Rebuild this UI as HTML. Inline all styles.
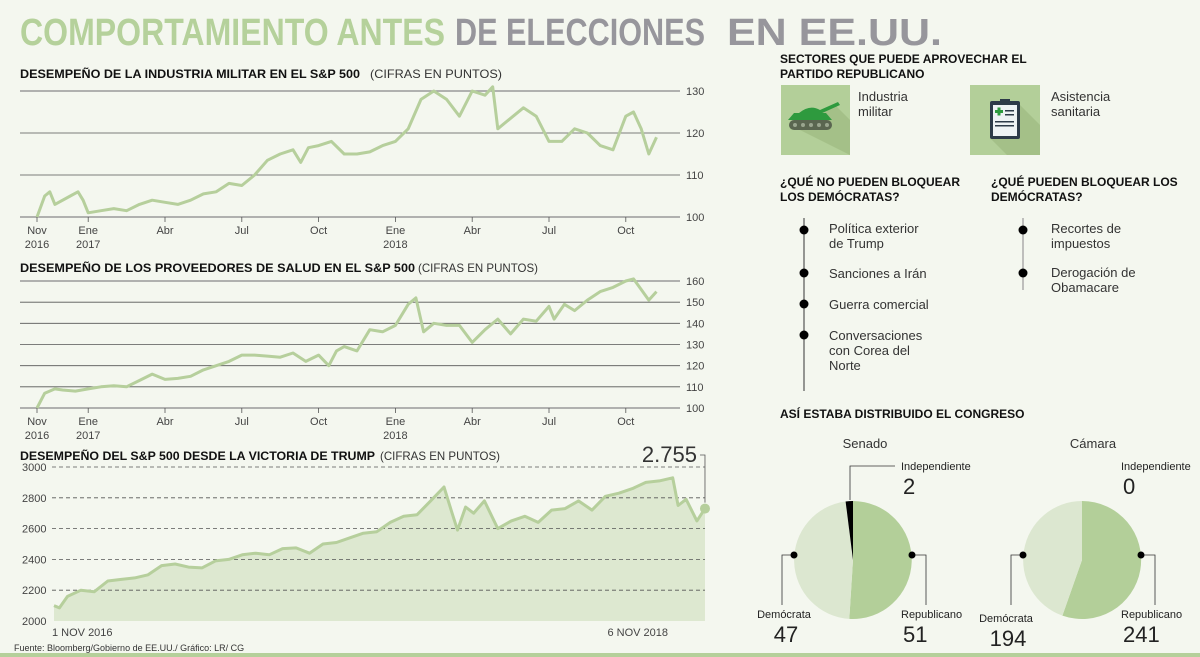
<!DOCTYPE html>
<html><head><meta charset="utf-8">
<style>
html,body{margin:0;padding:0;background:#f4f7ef;}
svg{display:block;font-family:"Liberation Sans",sans-serif;}
.t{font-weight:bold;fill:#111;font-size:12px;}
.sub{fill:#333;font-size:12px;}
.ax{fill:#444;font-size:11px;}
.lt{fill:#333;font-size:13px;}
</style></head>
<body>
<svg id="root" width="1200" height="657" viewBox="0 0 1200 657">
<rect x="0" y="0" width="1200" height="657" fill="#f4f7ef"/>
<text x="20" y="45" font-size="38" font-weight="bold" fill="#b5d19b" textLength="425" lengthAdjust="spacingAndGlyphs">COMPORTAMIENTO ANTES</text>
<text x="455" y="45" font-size="38" font-weight="bold" fill="#97969c" textLength="250" lengthAdjust="spacingAndGlyphs">DE ELECCIONES</text>
<text x="727" y="45" font-size="38" font-weight="bold" fill="#97969c" textLength="215" lengthAdjust="spacingAndGlyphs">EN EE.UU.</text>

<text x="20" y="78" class="t" textLength="340" lengthAdjust="spacingAndGlyphs">DESEMPEÑO DE LA INDUSTRIA MILITAR EN EL S&amp;P 500</text>
<text x="370" y="78" class="sub" textLength="132" lengthAdjust="spacingAndGlyphs">(CIFRAS EN PUNTOS)</text>
<text x="20" y="272" class="t" textLength="395" lengthAdjust="spacingAndGlyphs">DESEMPEÑO DE LOS PROVEEDORES DE SALUD EN EL S&amp;P 500</text>
<text x="418" y="272" class="sub" textLength="120" lengthAdjust="spacingAndGlyphs">(CIFRAS EN PUNTOS)</text>
<text x="20" y="460" class="t" textLength="355" lengthAdjust="spacingAndGlyphs">DESEMPEÑO DEL S&amp;P 500 DESDE LA VICTORIA DE TRUMP</text>
<text x="380" y="460" class="sub" textLength="120" lengthAdjust="spacingAndGlyphs">(CIFRAS EN PUNTOS)</text>

<g id="c1"></g>
<g id="c2"></g>
<g id="c3"></g>

<text x="14" y="651" font-size="9" fill="#333">Fuente: Bloomberg/Gobierno de EE.UU./ Gráfico: LR/ CG</text>
<rect x="0" y="653" width="1200" height="4" fill="#b5d09a"/>

<!-- right panel -->
<text x="780" y="63" class="t" font-size="13">SECTORES QUE PUEDE APROVECHAR EL</text>
<text x="780" y="78" class="t" font-size="13">PARTIDO REPUBLICANO</text>
<g>
<rect x="781" y="85" width="69" height="70" fill="#b3cf99"/>
<polygon points="790,125 850,155 850,120 835,105" fill="#a4c088"/>
<rect x="789" y="120" width="43" height="10" rx="5" fill="#5a6650"/>
<circle cx="795" cy="125" r="2" fill="#9aa68f"/><circle cx="803" cy="125" r="2" fill="#9aa68f"/><circle cx="811" cy="125" r="2" fill="#9aa68f"/><circle cx="819" cy="125" r="2" fill="#9aa68f"/><circle cx="827" cy="125" r="2" fill="#9aa68f"/>
<path d="M788,120 L832,120 L826,113 L794,113 Z" fill="#2e9a3e"/>
<path d="M799,113 Q810,104 820,110 L838,102 L840,105 L820,114 Z" fill="#2e9a3e"/>
</g>
<text x="858" y="101" class="lt">Industria</text>
<text x="858" y="116" class="lt">militar</text>
<g>
<rect x="970" y="85" width="70" height="70" fill="#b3cf99"/>
<polygon points="990,138 1007,155 1040,155 1040,125 1019,104" fill="#a4c088"/>
<rect x="990" y="101" width="30" height="38" rx="2" fill="#2d3a48"/>
<rect x="993" y="105" width="24" height="31" fill="#eef2f4"/>
<rect x="1000" y="99" width="10" height="5" fill="#2d3a48"/>
<rect x="995" y="110" width="8" height="3" fill="#2e9a3e"/><rect x="997.5" y="107.5" width="3" height="8" fill="#2e9a3e"/>
<rect x="1005" y="110" width="9" height="1.5" fill="#2d3a48"/><rect x="1005" y="114" width="9" height="1.5" fill="#2d3a48"/>
<rect x="995" y="121" width="19" height="1.5" fill="#2d3a48"/><rect x="995" y="125" width="19" height="1.5" fill="#2d3a48"/>
</g>
<text x="1051" y="101" class="lt">Asistencia</text>
<text x="1051" y="116" class="lt">sanitaria</text>

<text x="780" y="186" class="t" font-size="13">¿QUÉ NO PUEDEN BLOQUEAR</text>
<text x="780" y="201" class="t" font-size="13">LOS DEMÓCRATAS?</text>
<text x="991" y="186" class="t" font-size="13">¿QUÉ PUEDEN BLOQUEAR LOS</text>
<text x="991" y="201" class="t" font-size="13">DEMÓCRATAS?</text>

<line x1="804" y1="218" x2="804" y2="391" stroke="#555" stroke-width="1.2"/>
<g><circle cx="804" cy="230" r="4.5" fill="#000"/><text x="829" y="233" class="lt">Política exterior</text><text x="829" y="248" class="lt">de Trump</text></g>
<g><circle cx="804" cy="273" r="4.5" fill="#000"/><text x="829" y="278" class="lt">Sanciones a Irán</text></g>
<g><circle cx="804" cy="304" r="4.5" fill="#000"/><text x="829" y="309" class="lt">Guerra comercial</text></g>
<g><circle cx="804" cy="335" r="4.5" fill="#000"/><text x="829" y="340" class="lt">Conversaciones</text><text x="829" y="355" class="lt">con Corea del</text><text x="829" y="370" class="lt">Norte</text></g>
<line x1="1023" y1="218" x2="1023" y2="290" stroke="#999" stroke-width="1.2"/>
<g><circle cx="1023" cy="230" r="4.5" fill="#000"/><text x="1051" y="233" class="lt">Recortes de</text><text x="1051" y="248" class="lt">impuestos</text></g>
<g><circle cx="1023" cy="273" r="4.5" fill="#000"/><text x="1051" y="277" class="lt">Derogación de</text><text x="1051" y="292" class="lt">Obamacare</text></g>

<text x="780" y="418" class="t" font-size="13">ASÍ ESTABA DISTRIBUIDO EL CONGRESO</text>
<text x="865" y="448" font-size="13" fill="#333" text-anchor="middle">Senado</text>
<text x="1093" y="448" font-size="13" fill="#333" text-anchor="middle">Cámara</text>
<g id="pies"></g>
</svg>
<script>
// ---- chart data (months since 1 Nov 2016, values) ----
const c1Months = [0,0.3,0.5,0.7,1.3,1.6,1.8,2,2.5,3,3.5,4,4.5,5,5.5,6,6.5,7,7.5,8,8.5,9,9.5,10,10.3,10.6,11,11.5,12,12.5,13,13.5,14,14.5,15,15.5,16,16.5,17,17.5,17.8,18,18.5,19,19.5,20,20.5,21,21.5,22,22.5,23,23.3,23.6,23.9,24.2];
const c1Values = [100,105,106,103,105,106,104,101,101.5,102,101.5,103,104,103.5,103,104,105.5,106,108,107.5,110,113.5,115,116,113,116.5,117,118,115,115,115.5,117,118,121,128,130,128,124,130,129,131,121,123.5,126,124,118,118,121,120,117,116,124,125,121,115,119];
const c1Ticks = [100,110,120,130];
const c2Months = [0,0.3,0.7,1,1.5,2,2.5,3,3.5,4,4.5,5,5.5,6,6.5,7,7.5,8,8.5,9,9.5,10,10.5,11,11.4,11.7,12,12.5,13,13.5,14,14.5,14.8,15.1,15.5,16,16.5,17,17.5,18,18.5,19,19.5,20,20.2,20.6,21,21.5,22,22.5,23,23.3,23.6,23.9,24.2];
const c2Values = [100,107,109,108.5,108,109,110,110.5,110,113,116,113.5,114,115,118,120,122,125,125,124.5,124,126,122,125,120,127,129,127,137,136,139,149,152,136,140,139,139,131,137,142,135,142,141,148,142,149,146,151,155,157,160,161,156,151,155];
const c2Ticks = [100,110,120,130,140,150,160];
const c3Months = [0,0.2,0.5,1,1.5,2,2.5,3,3.5,4,4.5,5,5.5,6,6.5,7,7.5,8,8.5,9,9.5,10,10.5,11,11.5,12,12.5,13,13.5,14,14.5,14.8,15,15.3,15.6,16,16.5,17,17.5,18,18.5,19,19.5,20,20.5,21,21.5,22,22.5,23,23.2,23.5,23.9,24.2];
const c3Values = [2100,2085,2160,2200,2190,2260,2270,2280,2300,2360,2370,2350,2345,2390,2400,2430,2440,2430,2470,2475,2440,2500,2510,2540,2570,2580,2640,2680,2690,2780,2870,2700,2590,2740,2700,2780,2600,2650,2680,2640,2720,2730,2780,2720,2810,2830,2860,2900,2910,2930,2750,2790,2650,2730];
const c3Ticks = [2000,2200,2400,2600,2800,3000];
const monthLabels = ["Nov","Ene","Abr","Jul","Oct","Ene","Abr","Jul","Oct"];
const yearLabels = ["2016","2017","","","","2018","","",""];
const monthPos = [0,2,5,8,11,14,17,20,23];
const pieSenate = [51,47,2];   // republicano, demócrata, independiente
const pieHouse = [241,194,0];

const NS="http://www.w3.org/2000/svg";
function mk(tag,attrs,parent,txt){const e=document.createElementNS(NS,tag);for(const k in attrs)e.setAttribute(k,attrs[k]);if(txt!==undefined)e.textContent=txt;parent.appendChild(e);return e;}
const LINE="#b6cf9c";

function lineChart(g,months,values,ticks,x0,pxPerMonth,yBase,yTop,minV,maxV,gx1,gx2,labY){
  const xs=m=>x0+m*pxPerMonth;
  const ys=v=>yBase-(v-minV)/(maxV-minV)*(yBase-yTop);
  ticks.forEach(t=>{
    const strong=(t===minV||t===maxV);
    const l=mk('line',{x1:gx1,x2:gx2,y1:ys(t),y2:ys(t),stroke:strong?'#9a9a9a':'#555','stroke-width':strong?1.6:0.8},g);
    
    
    const tx=mk('text',{x:gx2+6,y:ys(t)+4,class:'ax'},g,String(t));
    
    
  });
  monthPos.forEach((m,i)=>{
    const tk=mk('line',{x1:xs(m),x2:xs(m),y1:yBase,y2:yBase+5,stroke:'#555','stroke-width':0.8},g);
    
    
    const t1=mk('text',{x:xs(m),y:labY,class:'ax','text-anchor':'middle'},g,monthLabels[i]);
    
    
    if(yearLabels[i]){const t2=mk('text',{x:xs(m),y:labY+14,class:'ax','text-anchor':'middle'},g,yearLabels[i]);
    
    }
  });
  const d=months.map((m,i)=>(i?'L':'M')+xs(m).toFixed(1)+','+ys(values[i]).toFixed(1)).join(' ');
  const p=mk('path',{d:d,fill:'none',stroke:LINE,'stroke-width':3,'stroke-linejoin':'round'},g);
  
  
}
lineChart(document.getElementById('c1'),c1Months,c1Values,c1Ticks,37,25.6,217,91,100,130,20,680,234);
lineChart(document.getElementById('c2'),c2Months,c2Values,c2Ticks,37,25.6,408,281,100,160,20,680,425);

// chart 3 area
(function(){
  const g=document.getElementById('c3');
  const x0=54,px=26.9,yb=621,yt=467,mn=2000,mx=3000;
  const xs=m=>x0+m*px, ys=v=>yb-(v-mn)/(mx-mn)*(yb-yt);
  const pts=c3Months.map((m,i)=>xs(m).toFixed(1)+','+ys(c3Values[i]).toFixed(1));
  const area=mk('path',{d:'M'+xs(c3Months[0])+','+yb+' L'+pts.join(' L')+' L'+xs(c3Months[c3Months.length-1])+','+yb+' Z',fill:'#dde8d0'},g);
  
  
  c3Ticks.forEach(t=>{
    if(t>mn){const l=mk('line',{x1:52,x2:705,y1:ys(t),y2:ys(t),stroke:'#555','stroke-width':0.8,'stroke-dasharray':'4,3'},g);
    
    }
    const tx=mk('text',{x:22,y:ys(t)+4,class:'ax'},g,String(t));
    
    
  });
  const ln=mk('path',{d:'M'+pts.join(' L'),fill:'none',stroke:LINE,'stroke-width':3,'stroke-linejoin':'round'},g);
  
  
  const lx=xs(c3Months[c3Months.length-1]), ly=ys(c3Values[c3Values.length-1]);
  const dot=mk('circle',{cx:lx,cy:ly,r:5,fill:LINE},g);
  
  
  const lead=mk('polyline',{points:lx+','+(ly-6)+' '+lx+',455 '+(lx-5)+',455',fill:'none',stroke:'#555','stroke-width':0.8},g);
  
  
  const lv=mk('text',{x:lx-8,y:462,'font-size':22,fill:'#333','text-anchor':'end'},g,'2.755');
  
  
  const a=mk('text',{x:52,y:636,class:'ax'},g,'1 NOV 2016');
  
  
  const b=mk('text',{x:668,y:636,class:'ax','text-anchor':'end'},g,'6 NOV 2018');
  
  
})();

// pies
(function(){
  const g=document.getElementById('pies');
  const cols=['#b3cf99','#dce7d0','#000000'];
  function pie(cx,cy,r,vals,name){
    const tot=vals.reduce((a,b)=>a+b,0);let a0=0;
    vals.forEach((v,i)=>{
      if(v<=0)return;
      const a1=a0+v/tot*2*Math.PI;
      const p=(a)=>[cx+r*Math.sin(a),cy-r*Math.cos(a)];
      const s=p(a0),e=p(a1),big=(a1-a0)>Math.PI?1:0;
      const sl=mk('path',{d:`M${cx},${cy} L${s[0].toFixed(1)},${s[1].toFixed(1)} A${r},${r} 0 ${big} 1 ${e[0].toFixed(1)},${e[1].toFixed(1)} Z`,fill:cols[i]},g);
      
      
      a0=a1;
    });
  }
  pie(853,560,59,pieSenate,'senate');
  pie(1082,560,59,pieHouse,'house');
  function lab(x,y,txt,num,anchor,name){
    const t=mk('text',{x:x,y:y,'font-size':11,fill:'#222','text-anchor':anchor},g,txt);
    
    
    const n=mk('text',{x:x+(anchor==='end'?-4:2),y:y+24,'font-size':22,fill:'#222','text-anchor':anchor},g,num);
    
    
  }
  function leader(pts,dot,name){
    const l=mk('polyline',{points:pts,fill:'none',stroke:'#333','stroke-width':0.8},g);
    
    
    if(dot){const c=mk('circle',{cx:dot[0],cy:dot[1],r:3.5,fill:'#000'},g);
    
    }
  }
  leader('794,555 782,555 782,605',[794,555],'senate-dem');
  leader('912,555 926,555 926,605',[912,555],'senate-rep');
  leader('850,500 850,466 895,466',null,'senate-ind');
  leader('1023,555 1011,555 1011,605',[1023,555],'house-dem');
  leader('1141,555 1155,555 1155,605',[1141,555],'house-rep');
  lab(784,618,'Demócrata',String(pieSenate[1]),'middle','senate-dem');
  lab(901,618,'Republicano',String(pieSenate[0]),'start','senate-rep');
  lab(901,470,'Independiente',String(pieSenate[2]),'start','senate-ind');
  lab(1006,622,'Demócrata',String(pieHouse[1]),'middle','house-dem');
  lab(1121,618,'Republicano',String(pieHouse[0]),'start','house-rep');
  lab(1121,470,'Independiente',String(pieHouse[2]),'start','house-ind');
})();
</script>
</body></html>
